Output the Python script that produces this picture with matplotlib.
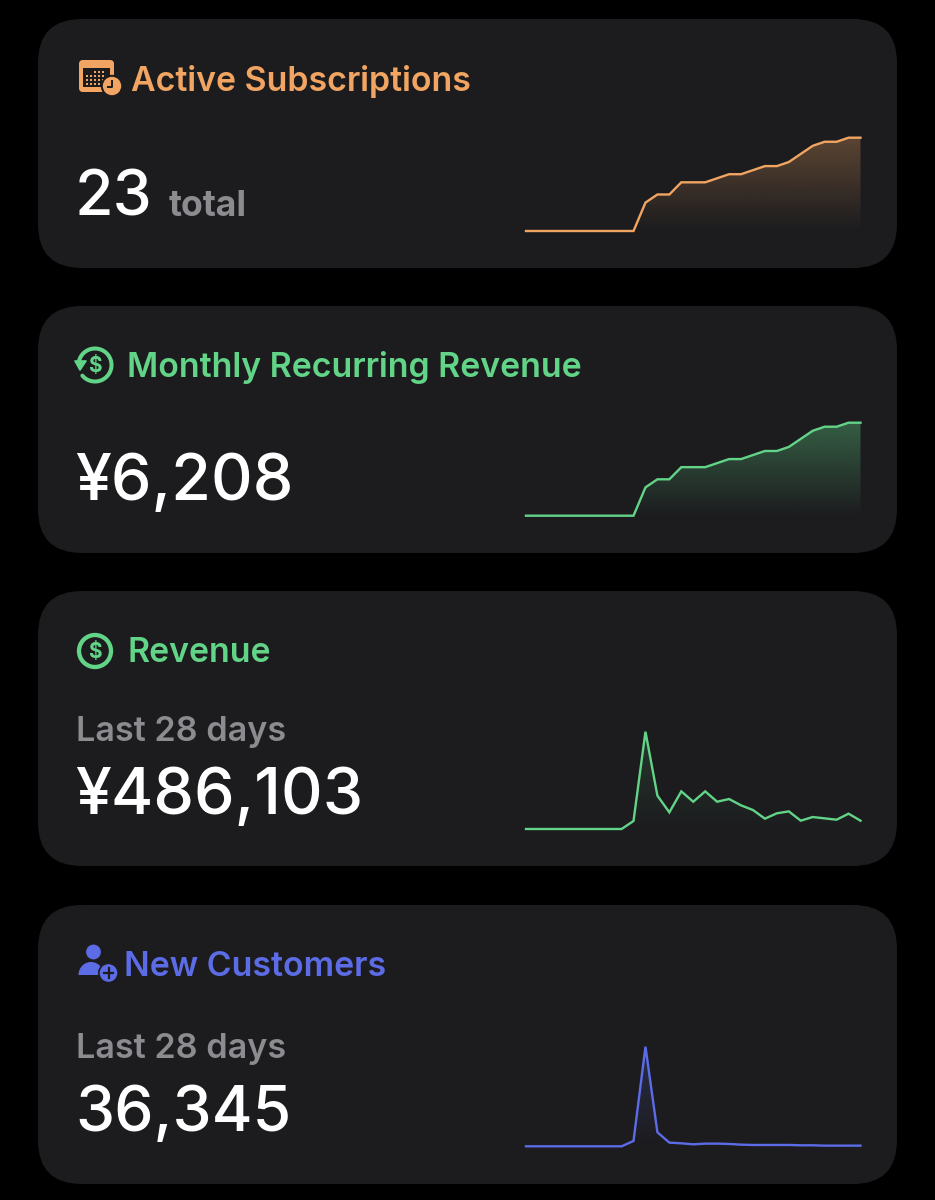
import numpy as np
import matplotlib
matplotlib.use("Agg")
import matplotlib.pyplot as plt
from matplotlib.patches import FancyBboxPatch, Circle, Polygon, Rectangle

plt.rcParams['font.family'] = ['Inter', 'DejaVu Sans']

BG = "#000000"
CARD = "#1c1c1e"
ORANGE = "#f2a562"
GREEN = "#62d488"
BLUE = "#5c6ce6"
GRAY = "#8b8b90"
WHITE = "#ffffff"

days = list(range(29))
subscriptions = [0, 0, 0, 0, 0, 0, 0, 0, 0, 0, 7, 9, 9, 12, 12, 12, 13, 14, 14, 15,
                 16, 16, 17, 19, 21, 22, 22, 23, 23]
mrr = [0, 0, 0, 0, 0, 0, 0, 0, 0, 0, 1890, 2430, 2430, 3240, 3240, 3240, 3510, 3780,
       3780, 4050, 4320, 4320, 4590, 5130, 5670, 5940, 5940, 6208, 6208]
revenue = [0, 0, 0, 0, 0, 0, 0, 0, 0, 8350, 101600, 34800, 17400, 39300, 28500, 39300,
           28500, 31300, 24700, 19800, 10800, 16400, 18400, 8700, 12500, 11100, 9700,
           16000, 8700]
customers = [0, 0, 0, 0, 0, 0, 0, 0, 0, 1320, 24640, 3460, 910, 740, 490, 660, 660,
             580, 410, 330, 330, 330, 330, 250, 250, 160, 160, 160, 160]

W, H = 935, 1200
fig = plt.figure(figsize=(W / 100, H / 100), dpi=100, facecolor=BG)

# page layer in pixels, y going down
page = fig.add_axes([0, 0, 1, 1])
page.set_xlim(0, W)
page.set_ylim(H, 0)
page.axis("off")


def card(top, bottom):
    r = 44
    page.add_patch(FancyBboxPatch((38 + r, top + r), 859 - 2 * r, bottom - top - 2 * r,
                                  boxstyle=f"round,pad={r},rounding_size={r}",
                                  fc=CARD, ec="none"))


def spark(values, color, base_px, top_px, alpha):
    # one small axes per card, placed on the pixel grid
    ax = fig.add_axes([526 / W, 1 - base_px / H, 334.5 / W, (base_px - top_px) / H])
    ax.axis("off")
    ax.set_xlim(days[0], days[-1])
    ax.set_ylim(0, max(values))
    area = ax.fill_between(days, values, 0, color="none")
    rgba = np.zeros((256, 2, 4))
    rgba[..., :3] = matplotlib.colors.to_rgb(color)
    rgba[..., 3] = np.linspace(alpha, 0, 256)[:, None]
    im = ax.imshow(rgba, extent=(days[0], days[-1], 0, max(values)), aspect="auto", origin="upper")
    im.set_clip_path(area.get_paths()[0], transform=ax.transData)
    ax.plot(days, values, color=color, lw=1.7, solid_joinstyle="miter", clip_on=False)


def title(x, y, text, color):
    page.text(x, y, text, color=color, fontsize=24.4, fontweight="semibold", va="baseline")


def big(y, text, size=46.5):
    page.text(75, y, text, color=WHITE, fontsize=size, fontweight="medium", va="baseline")


def sub(x, y, text, size=24.6, weight="semibold"):
    page.text(x, y, text, color=GRAY, fontsize=size, fontweight=weight, va="baseline")


def dollar(cx, cy, color):
    page.text(cx, cy + 0.5, "$", color=color, fontsize=15, fontweight="bold", ha="center", va="center")


def icon_calendar(color):
    page.add_patch(FancyBboxPatch((82, 63), 29, 26, boxstyle="round,pad=3,rounding_size=4", fc=color, ec="none"))
    page.add_patch(Rectangle((83, 68), 27, 19, fc=CARD, ec="none"))
    for r, yy in enumerate((71, 75, 79, 83)):
        for c in range(5):
            if r == 0 and c < 2:
                continue
            page.add_patch(Rectangle((86 + c * 4, yy), 2.4, 2.4, fc=color, ec="none"))
    page.add_patch(Circle((112, 86), 11.2, fc=CARD, ec="none"))
    page.add_patch(Circle((112, 86), 9.2, fc=color, ec="none"))
    page.plot([112, 112, 107.5], [80.5, 87, 87], color=CARD, lw=1.4)


def icon_refresh(color):
    cx, cy, r = 95, 365, 16.5
    t = np.radians(np.linspace(-170, 140, 120))
    page.plot(cx + r * np.cos(t), cy + r * np.sin(t), color=color, lw=2.9, solid_capstyle="round")
    page.add_patch(Polygon([(75, 361), (86, 361), (80, 370)], fc=color, ec=color, lw=1.2, joinstyle="round"))
    dollar(cx, cy, color)


def icon_coin(color):
    cx, cy = 95, 651
    page.add_patch(Circle((cx, cy), 16, fc="none", ec=color, lw=3.1))
    dollar(cx, cy, color)


def icon_person(color):
    page.add_patch(Circle((93.5, 952), 7.4, fc=color, ec="none"))
    t = np.radians(np.linspace(180, 360, 60))
    body = np.column_stack((91 + 12.5 * np.cos(t), 975 + 13 * np.sin(t)))
    page.add_patch(Polygon(body, fc=color, ec="none", joinstyle="round"))
    page.add_patch(Circle((108.5, 973), 10.5, fc=CARD, ec="none"))
    page.add_patch(Circle((108.5, 973), 8.8, fc=color, ec="none"))
    page.plot([103.8, 113.2], [973, 973], color=CARD, lw=1.6)
    page.plot([108.5, 108.5], [968.3, 977.7], color=CARD, lw=1.6)


card(19, 268)
card(306, 553)
card(591, 866)
card(905, 1184)

icon_calendar(ORANGE)
title(131, 90.5, "Active Subscriptions", ORANGE)
big(215.5, "23", size=45)
sub(169, 215.5, "total", size=25.6, weight="bold")
spark(subscriptions, ORANGE, 231, 137.7, 0.30)

icon_refresh(GREEN)
title(127, 377.5, "Monthly Recurring Revenue", GREEN)
big(499.5, "¥6,208")
spark(mrr, GREEN, 515.7, 422.7, 0.36)

icon_coin(GREEN)
title(128, 662.5, "Revenue", GREEN)
sub(75.5, 741, "Last 28 days")
big(813.5, "¥486,103")
spark(revenue, GREEN, 829, 731.7, 0.16)

icon_person(BLUE)
title(124, 976.5, "New Customers", BLUE)
sub(75.5, 1058, "Last 28 days")
big(1130.5, "36,345", size=45)
spark(customers, BLUE, 1146.3, 1046.7, 0.22)

fig.savefig("out.png", dpi=100, facecolor=BG)
